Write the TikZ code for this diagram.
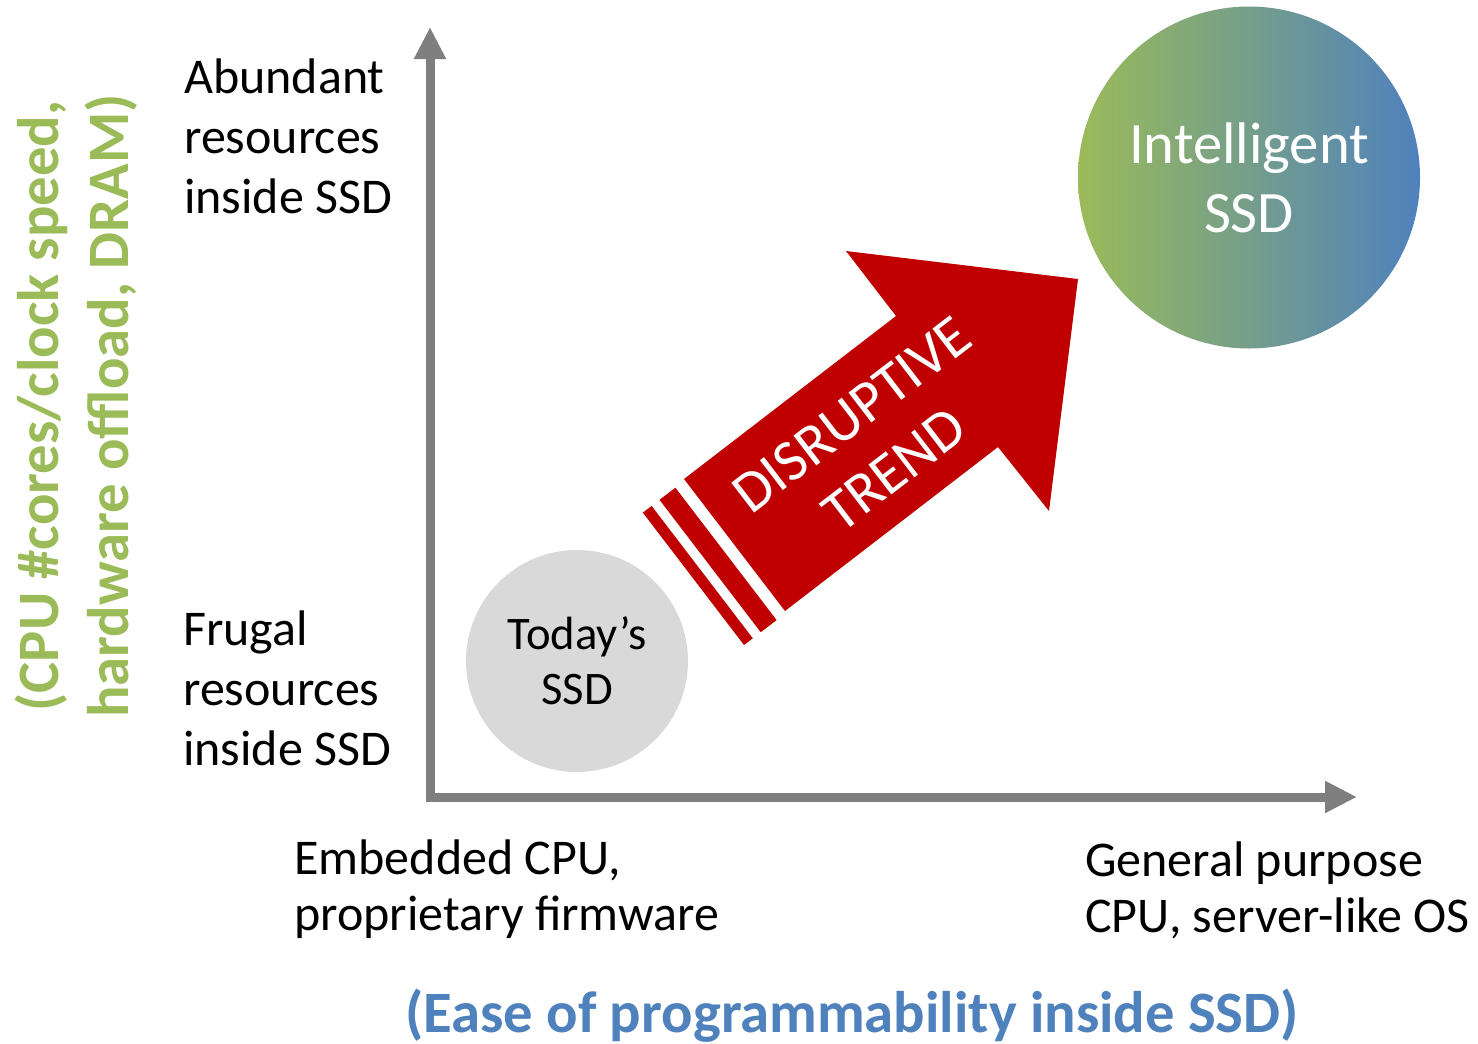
\documentclass[tikz,border=0pt]{standalone}
\usepackage{fontspec}
\setmainfont{Carlito}
\usetikzlibrary{arrows.meta}
\definecolor{axisgray}{HTML}{7F7F7F}
\definecolor{ssdgray}{HTML}{D9D9D9}
\definecolor{trendred}{HTML}{C00000}
\definecolor{resgreen}{HTML}{9BBB59}
\definecolor{progblue}{HTML}{4F81BD}
\begin{document}
\begin{tikzpicture}[x=0.75pt,y=-0.75pt,
  axisline/.style={draw=axisgray, line width=6.75pt, line join=miter,
    {Triangle[length=24pt,width=22.5pt]}-{Triangle[length=24pt,width=22.5pt]}},
  lbl/.style={align=left, anchor=base west, inner sep=0pt,
    font=\fontsize{37.5}{45}\selectfont},
  ssd/.style={circle, inner sep=0pt, align=center},
  axistitle/.style={anchor=base, inner sep=0pt, align=center,
    font=\fontsize{44}{52.5}\selectfont\bfseries}]
% canvas
\path[use as bounding box] (0,0) rectangle (1478,1043);

% the disruptive-trend block arrow and its speed stripes
\fill[trendred] (684,479) -- (896,316) -- (846,251) -- (1078,279)
  -- (1049,511) -- (998,447) -- (785,611) -- cycle;
\fill[trendred] (659.5,499.8) -- (675.4,487.7) -- (776.6,620.1) -- (760.7,632.2) -- cycle;
\fill[trendred] (642.8,512.6) -- (651.6,505.9) -- (752.8,638.3) -- (744,645) -- cycle;
\node[rotate=37.5, text=white, align=center, inner sep=0pt,
  font=\fontsize{44}{52}\selectfont] (trend) at (873,442) {DISRUPTIVE\\TREND};

% the two SSD bubbles
\node[ssd, fill=ssdgray, minimum size=166.5pt,
  font=\fontsize{35}{41.25}\selectfont] (today) at (577,661) {Today’s\\SSD};
\node[ssd, left color=resgreen, right color=progblue, text=white,
  minimum size=256.5pt, font=\fontsize{44}{51.75}\selectfont]
  (smart) at (1249,177.5) {Intelligent\\SSD};

% axes
\coordinate (ytip) at (430,27);
\coordinate (xtip) at (1357,797);
\draw[axisline] (ytip) |- (xtip);

% axis end labels (base = baseline of the last line)
\node[lbl] (abundant) at (184,213) {Abundant\\resources\\inside SSD};
\node[lbl] (frugal) at (183,765) {Frugal\\resources\\inside SSD};
\node[lbl, font=\fontsize{37.5}{42}\selectfont] (embedded) at (294,930)
  {Embedded CPU,\\proprietary firmware};
\node[lbl, font=\fontsize{37.5}{42}\selectfont] (general) at (1085,932)
  {General purpose\\CPU, server-like OS};

% axis titles
\node[axistitle, text=progblue] (xtitle) at (852,1032)
  {(Ease of programmability inside SSD)};
\node[axistitle, text=resgreen, rotate=90] (ytitle) at (128,406)
  {(CPU \#cores/clock speed,\\hardware offload, DRAM)};
\end{tikzpicture}
\end{document}
